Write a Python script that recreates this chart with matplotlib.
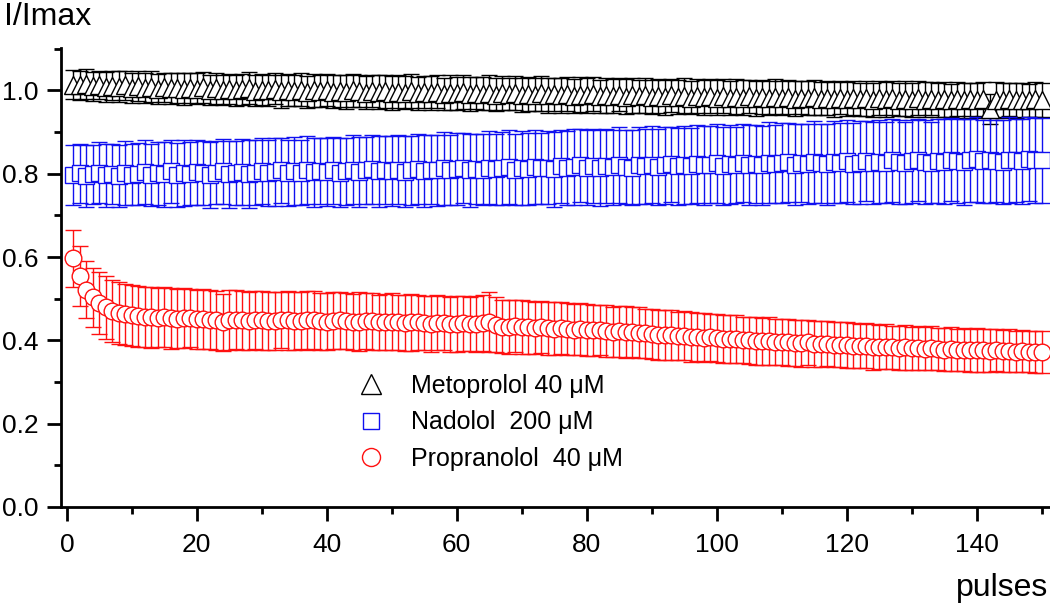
import numpy as np
import matplotlib
matplotlib.use("Agg")
import matplotlib.pyplot as plt
from matplotlib.lines import Line2D
from matplotlib.ticker import MultipleLocator, FormatStrFormatter

plt.rcParams['font.family'] = ['Liberation Sans', 'DejaVu Sans']

pulses = np.arange(1, 151)

# Metoprolol 40 uM
meto_mean = [
    1.014, 1.012, 1.015, 1.010, 1.013, 1.008, 1.011, 1.009, 1.012, 1.007,
    1.010, 1.006, 1.009, 1.004, 1.008, 1.005, 1.007, 1.003, 1.006, 1.004,
    1.008, 1.002, 1.005, 1.001, 1.004, 1.000, 1.003, 1.006, 0.999, 1.002,
    1.000, 1.004, 0.998, 1.001, 0.999, 1.002, 0.997, 1.000, 0.998, 1.001,
    0.997, 0.999, 0.996, 1.000, 0.998, 0.995, 0.999, 0.996, 0.998, 0.994,
    0.997, 0.995, 0.998, 0.993, 0.996, 0.994, 0.997, 0.992, 0.995, 0.993,
    0.996, 0.991, 0.994, 0.992, 0.995, 0.990, 0.993, 0.991, 0.994, 0.989,
    0.992, 0.990, 0.993, 0.988, 0.991, 0.989, 0.992, 0.987, 0.990, 0.988,
    0.991, 0.986, 0.989, 0.987, 0.990, 0.985, 0.988, 0.986, 0.989, 0.985,
    0.987, 0.984, 0.988, 0.985, 0.987, 0.983, 0.986, 0.984, 0.987, 0.983,
    0.986, 0.982, 0.985, 0.983, 0.986, 0.981, 0.984, 0.982, 0.985, 0.981,
    0.984, 0.980, 0.983, 0.981, 0.984, 0.980, 0.982, 0.979, 0.983, 0.980,
    0.982, 0.979, 0.981, 0.978, 0.982, 0.979, 0.981, 0.978, 0.980, 0.977,
    0.981, 0.978, 0.980, 0.977, 0.979, 0.976, 0.980, 0.977, 0.979, 0.976,
    0.979, 0.955, 0.978, 0.976, 0.979, 0.977, 0.978, 0.976, 0.979, 0.977,
]
meto_err = [
    0.035, 0.034, 0.036, 0.035, 0.034, 0.036, 0.035, 0.037, 0.035, 0.036,
    0.036, 0.035, 0.037, 0.036, 0.035, 0.037, 0.036, 0.038, 0.036, 0.037,
    0.037, 0.036, 0.038, 0.037, 0.036, 0.038, 0.037, 0.039, 0.037, 0.038,
    0.038, 0.037, 0.039, 0.038, 0.037, 0.039, 0.038, 0.040, 0.038, 0.039,
    0.039, 0.038, 0.040, 0.039, 0.038, 0.040, 0.039, 0.041, 0.039, 0.040,
    0.040, 0.039, 0.041, 0.040, 0.039, 0.041, 0.040, 0.039, 0.041, 0.040,
    0.040, 0.041, 0.039, 0.040, 0.042, 0.040, 0.041, 0.039, 0.040, 0.041,
    0.041, 0.040, 0.042, 0.041, 0.040, 0.042, 0.041, 0.040, 0.042, 0.041,
    0.041, 0.040, 0.042, 0.041, 0.040, 0.042, 0.041, 0.040, 0.042, 0.041,
    0.041, 0.042, 0.040, 0.041, 0.042, 0.040, 0.041, 0.042, 0.040, 0.041,
    0.041, 0.040, 0.042, 0.041, 0.040, 0.042, 0.041, 0.040, 0.042, 0.041,
    0.041, 0.042, 0.040, 0.041, 0.042, 0.040, 0.041, 0.042, 0.040, 0.041,
    0.041, 0.040, 0.042, 0.041, 0.040, 0.042, 0.041, 0.040, 0.042, 0.041,
    0.041, 0.042, 0.040, 0.041, 0.042, 0.040, 0.041, 0.042, 0.040, 0.041,
    0.041, 0.036, 0.042, 0.041, 0.040, 0.042, 0.041, 0.040, 0.042, 0.041,
]

# Nadolol 200 uM
nado_mean = [
    0.797, 0.801, 0.795, 0.799, 0.803, 0.796, 0.800, 0.794, 0.802, 0.798,
    0.800, 0.805, 0.797, 0.801, 0.799, 0.806, 0.798, 0.802, 0.800, 0.804,
    0.801, 0.797, 0.803, 0.806, 0.799, 0.802, 0.805, 0.800, 0.803, 0.807,
    0.801, 0.804, 0.808, 0.802, 0.806, 0.803, 0.809, 0.804, 0.807, 0.805,
    0.808, 0.803, 0.806, 0.810, 0.805, 0.808, 0.811, 0.806, 0.809, 0.807,
    0.810, 0.805, 0.808, 0.812, 0.806, 0.810, 0.808, 0.813, 0.809, 0.811,
    0.814, 0.808, 0.812, 0.810, 0.815, 0.811, 0.813, 0.816, 0.810, 0.814,
    0.812, 0.817, 0.813, 0.815, 0.811, 0.818, 0.814, 0.816, 0.820, 0.815,
    0.818, 0.814, 0.819, 0.816, 0.821, 0.817, 0.815, 0.820, 0.818, 0.822,
    0.817, 0.820, 0.823, 0.818, 0.821, 0.819, 0.824, 0.820, 0.822, 0.825,
    0.819, 0.823, 0.821, 0.826, 0.822, 0.824, 0.820, 0.827, 0.823, 0.825,
    0.828, 0.822, 0.826, 0.824, 0.829, 0.825, 0.823, 0.828, 0.826, 0.830,
    0.824, 0.827, 0.831, 0.826, 0.829, 0.827, 0.832, 0.828, 0.826, 0.830,
    0.833, 0.829, 0.827, 0.831, 0.829, 0.834, 0.830, 0.828, 0.832, 0.835,
    0.830, 0.833, 0.831, 0.828, 0.834, 0.832, 0.830, 0.835, 0.833, 0.833,
]
nado_err = [
    0.072, 0.070, 0.074, 0.071, 0.073, 0.075, 0.072, 0.074, 0.076, 0.073,
    0.075, 0.077, 0.074, 0.076, 0.078, 0.075, 0.077, 0.079, 0.076, 0.078,
    0.077, 0.079, 0.076, 0.078, 0.080, 0.077, 0.079, 0.081, 0.078, 0.080,
    0.079, 0.081, 0.078, 0.080, 0.082, 0.079, 0.081, 0.083, 0.080, 0.082,
    0.081, 0.083, 0.080, 0.082, 0.084, 0.081, 0.083, 0.085, 0.082, 0.084,
    0.083, 0.085, 0.082, 0.084, 0.086, 0.083, 0.085, 0.087, 0.084, 0.086,
    0.085, 0.087, 0.084, 0.086, 0.088, 0.085, 0.087, 0.089, 0.086, 0.088,
    0.087, 0.089, 0.086, 0.088, 0.090, 0.087, 0.089, 0.091, 0.088, 0.090,
    0.089, 0.091, 0.088, 0.090, 0.092, 0.089, 0.091, 0.093, 0.090, 0.092,
    0.091, 0.093, 0.090, 0.092, 0.094, 0.091, 0.093, 0.095, 0.092, 0.094,
    0.093, 0.095, 0.092, 0.094, 0.096, 0.093, 0.095, 0.097, 0.094, 0.096,
    0.095, 0.097, 0.094, 0.096, 0.098, 0.095, 0.097, 0.099, 0.096, 0.098,
    0.097, 0.099, 0.096, 0.098, 0.100, 0.097, 0.099, 0.101, 0.098, 0.100,
    0.099, 0.101, 0.098, 0.100, 0.102, 0.099, 0.101, 0.103, 0.100, 0.102,
    0.100, 0.102, 0.099, 0.101, 0.103, 0.100, 0.102, 0.101, 0.102, 0.102,
]

# Propranolol 40 uM
prop_mean = [
    0.597, 0.555, 0.522, 0.503, 0.490, 0.479, 0.471, 0.466, 0.463, 0.460,
    0.458, 0.456, 0.455, 0.454, 0.455, 0.453, 0.452, 0.454, 0.453, 0.451,
    0.452, 0.450, 0.448, 0.443, 0.449, 0.450, 0.448, 0.447, 0.449, 0.448,
    0.447, 0.446, 0.449, 0.448, 0.446, 0.447, 0.448, 0.449, 0.446, 0.445,
    0.447, 0.448, 0.446, 0.444, 0.445, 0.447, 0.446, 0.443, 0.444, 0.445,
    0.444, 0.442, 0.443, 0.444, 0.441, 0.440, 0.442, 0.441, 0.439, 0.440,
    0.441, 0.439, 0.440, 0.442, 0.443, 0.437, 0.433, 0.432, 0.434, 0.432,
    0.431, 0.430, 0.432, 0.429, 0.428, 0.430, 0.427, 0.426, 0.428, 0.425,
    0.424, 0.425, 0.423, 0.421, 0.422, 0.420, 0.419, 0.418, 0.417, 0.415,
    0.414, 0.413, 0.412, 0.410, 0.411, 0.409, 0.408, 0.406, 0.407, 0.405,
    0.404, 0.403, 0.404, 0.401, 0.400, 0.399, 0.398, 0.399, 0.397, 0.396,
    0.395, 0.394, 0.393, 0.395, 0.392, 0.391, 0.392, 0.390, 0.389, 0.388,
    0.387, 0.386, 0.387, 0.385, 0.384, 0.385, 0.383, 0.382, 0.384, 0.381,
    0.381, 0.380, 0.382, 0.379, 0.378, 0.379, 0.377, 0.378, 0.376, 0.377,
    0.376, 0.375, 0.377, 0.374, 0.375, 0.373, 0.374, 0.373, 0.372, 0.372,
]
prop_err = [
    0.068, 0.072, 0.068, 0.072, 0.075, 0.076, 0.074, 0.075, 0.073, 0.074,
    0.073, 0.072, 0.074, 0.071, 0.072, 0.073, 0.071, 0.072, 0.070, 0.071,
    0.072, 0.070, 0.071, 0.069, 0.072, 0.070, 0.071, 0.069, 0.070, 0.071,
    0.069, 0.070, 0.068, 0.070, 0.069, 0.068, 0.070, 0.069, 0.068, 0.069,
    0.068, 0.069, 0.067, 0.068, 0.070, 0.067, 0.068, 0.066, 0.067, 0.068,
    0.066, 0.067, 0.068, 0.066, 0.065, 0.067, 0.066, 0.065, 0.066, 0.067,
    0.066, 0.065, 0.067, 0.068, 0.072, 0.066, 0.064, 0.065, 0.063, 0.064,
    0.064, 0.063, 0.062, 0.064, 0.063, 0.062, 0.063, 0.061, 0.062, 0.063,
    0.062, 0.061, 0.062, 0.060, 0.061, 0.062, 0.060, 0.061, 0.059, 0.060,
    0.060, 0.059, 0.060, 0.058, 0.059, 0.060, 0.058, 0.059, 0.057, 0.058,
    0.058, 0.057, 0.058, 0.056, 0.057, 0.058, 0.056, 0.057, 0.055, 0.056,
    0.056, 0.055, 0.056, 0.054, 0.055, 0.056, 0.054, 0.055, 0.054, 0.055,
    0.054, 0.053, 0.054, 0.055, 0.053, 0.054, 0.052, 0.053, 0.054, 0.052,
    0.053, 0.052, 0.053, 0.051, 0.052, 0.053, 0.051, 0.052, 0.051, 0.052,
    0.051, 0.052, 0.050, 0.051, 0.052, 0.050, 0.051, 0.050, 0.051, 0.050,
]

labels = ["Metoprolol 40 \u03bcM", "Nadolol  200 \u03bcM", "Propranolol  40 \u03bcM"]
colors = ["black", "#1010f0", "#ff1010"]
markers = ["^", "s", "o"]
msizes = [13, 11, 12]
leg_sizes = [15, 12, 13]

fig = plt.figure(figsize=(10.5, 6.03), dpi=100)
ax = fig.add_axes([61 / 1050, 1 - 507 / 603, 989 / 1050, 459 / 603])

series = [(meto_mean, meto_err), (nado_mean, nado_err), (prop_mean, prop_err)]
for (m, e), c, mk, ms in zip(series, colors, markers, msizes):
    ax.errorbar(pulses, m, yerr=e, fmt=mk, ms=ms, mfc="white", mec=c, mew=1.0,
                ecolor=c, elinewidth=1.0, capsize=5.5, capthick=1.0)

ax.set_xlim(-0.9, 151.3)
ax.set_ylim(0, 1.102)
ax.xaxis.set_major_locator(MultipleLocator(20))
ax.xaxis.set_minor_locator(MultipleLocator(10))
ax.yaxis.set_major_locator(MultipleLocator(0.2))
ax.yaxis.set_minor_locator(MultipleLocator(0.1))
ax.yaxis.set_major_formatter(FormatStrFormatter("%.1f"))

for s in ["top", "right"]:
    ax.spines[s].set_visible(False)
for s in ["left", "bottom"]:
    ax.spines[s].set_linewidth(2)
ax.tick_params(which="major", direction="out", length=10, width=2, labelsize=19, pad=6)
ax.tick_params(which="minor", direction="out", length=5, width=2)
ax.tick_params(axis="x", which="major", pad=9)

handles = [Line2D([], [], ls="none", marker=mk, ms=ms, mfc="white", mec=c, mew=1.0)
           for c, mk, ms in zip(colors, markers, leg_sizes)]
ax.legend(handles, labels, loc="upper left", bbox_to_anchor=(355 / 1050, 1 - 374 / 603),
          bbox_transform=fig.transFigure, frameon=False, fontsize=18, borderpad=0,
          borderaxespad=0, handlelength=1.25, handletextpad=1.0, labelspacing=0.5)

fig.text(4 / 1050, 1 - 2 / 603, "I/Imax", fontsize=23, ha="left", va="top")
fig.text(1048 / 1050, 1 - 596 / 603, "pulses", fontsize=23, ha="right", va="baseline")

fig.savefig("out.png", dpi=100)
